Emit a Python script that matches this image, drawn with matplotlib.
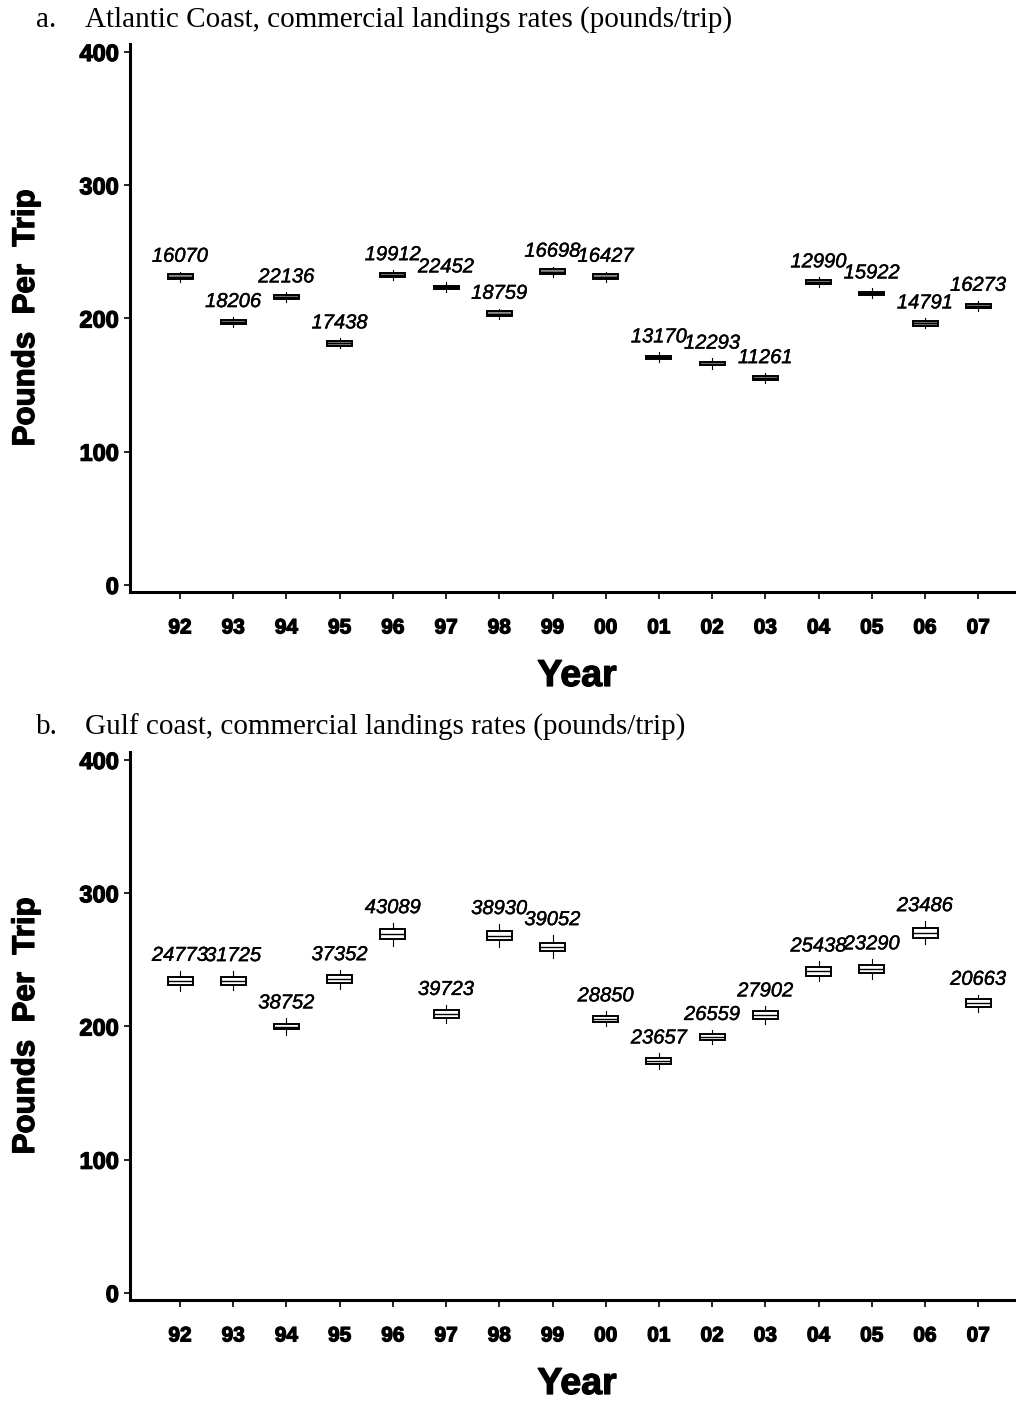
import matplotlib
matplotlib.use('Agg')
import matplotlib.pyplot as plt
import matplotlib.patheffects as pe

years = ['92', '93', '94', '95', '96', '97', '98', '99',
         '00', '01', '02', '03', '04', '05', '06', '07']

## Atlantic coast (panel a) ##
trips_a = ['16070', '18206', '22136', '17438', '19912', '22452', '18759', '16698',
           '16427', '13170', '12293', '11261', '12990', '15922', '14791', '16273']
med_a = [231.4, 197.4, 215.9, 181.4, 232.6, 223.4, 203.6, 235.2,
         231.4, 170.9, 166.2, 155.3, 227.2, 218.9, 196.4, 209.6]
q1_a = [229.5, 195.6, 214.4, 179.6, 231.3, 222.1, 201.7, 233.3,
        229.6, 169.7, 165.0, 154.0, 225.9, 217.6, 194.5, 208.0]
q3_a = [233.3, 199.2, 217.4, 183.2, 233.9, 224.7, 205.5, 237.1,
        233.2, 172.1, 167.4, 156.6, 228.5, 220.2, 198.3, 211.2]
lo_a = [227.6, 193.6, 212.1, 177.6, 228.8, 219.6, 199.8, 231.4,
        227.6, 167.1, 162.4, 151.5, 223.4, 215.1, 192.6, 205.8]
hi_a = [235.2, 201.2, 219.7, 185.2, 236.4, 227.2, 207.4, 239.0,
        235.2, 174.7, 170.0, 159.1, 231.0, 222.7, 200.2, 213.4]

## Gulf coast (panel b) ##
trips_b = ['24773', '31725', '38752', '37352', '43089', '39723', '38930', '39052',
           '28850', '23657', '26559', '27902', '25438', '23290', '23486', '20663']
med_b = [234.1, 234.4, 199.9, 235.4, 269.2, 209.4, 268.2, 259.9,
         205.9, 174.1, 192.1, 208.4, 241.4, 243.0, 270.4, 217.4]
q1_b = [231.0, 231.3, 197.8, 232.4, 265.5, 206.5, 264.6, 256.8,
        203.7, 171.6, 190.0, 205.5, 238.2, 240.1, 266.7, 214.3]
q3_b = [237.2, 237.5, 202.0, 238.4, 273.0, 212.3, 271.8, 263.0,
        208.2, 176.6, 194.2, 211.3, 244.7, 245.9, 274.2, 220.5]
lo_b = [226.3, 227.1, 193.6, 228.4, 260.7, 202.5, 259.4, 251.1,
        200.3, 168.3, 186.7, 201.6, 233.9, 235.5, 261.7, 210.9]
hi_b = [241.9, 241.7, 206.2, 242.4, 277.7, 216.3, 277.0, 268.7,
        211.5, 179.9, 197.5, 215.2, 248.9, 250.5, 279.2, 223.9]

titles = ['Atlantic Coast, commercial landings rates (pounds/trip)',
          'Gulf coast, commercial landings rates (pounds/trip)']

W, H = 1016, 1403
fig = plt.figure(figsize=(W/100, H/100), dpi=100)

narrow = ['Liberation Sans Narrow', 'Liberation Sans', 'DejaVu Sans']
sans = ['Liberation Sans', 'DejaVu Sans']
serif = ['Liberation Serif', 'DejaVu Serif']
heavy = [pe.withStroke(linewidth=0.9, foreground='black')]

def panel(top_px, bot_px, med, q1, q3, lo, hi, trips, face, letter, title, title_y):
    ax = fig.add_axes([130/W, 1-bot_px/H, (W-130)/W, (bot_px-top_px)/H])
    stats = []
    for i in range(len(years)):
        stats.append(dict(med=med[i], q1=q1[i], q3=q3[i], whislo=lo[i], whishi=hi[i], fliers=[]))
    pos = list(range(len(years)))
    ax.bxp(stats, positions=pos, widths=0.47, showcaps=False, showfliers=False,
           patch_artist=True,
           boxprops=dict(facecolor=face, edgecolor='black', linewidth=1.4),
           medianprops=dict(color='black', linewidth=1.0),
           whiskerprops=dict(color='black', linewidth=0.8))
    for i in range(len(years)):
        ax.text(pos[i], hi[i] + 11.5, trips[i], ha='center', va='center',
                fontsize=14.5, style='italic', family=sans,
                path_effects=[pe.withStroke(linewidth=0.3, foreground='black')])
    ax.set_xlim(-0.94, 15.71)
    ax.set_ylim(-5.3, 406)
    ax.set_yticks([0, 100, 200, 300, 400])
    ax.set_xticks(pos)
    ax.set_xticklabels(years)
    for s in ['top', 'right']:
        ax.spines[s].set_visible(False)
    for s in ['left', 'bottom']:
        ax.spines[s].set_linewidth(2.2)
    ax.tick_params(axis='x', length=5, width=1.2, pad=14)
    ax.tick_params(axis='y', length=4, width=1.2, pad=4)
    for lab in ax.get_xticklabels():
        lab.set_fontfamily(narrow); lab.set_fontweight('bold'); lab.set_fontsize(15)
        lab.set_path_effects(heavy)
    for lab in ax.get_yticklabels():
        lab.set_fontfamily(sans); lab.set_fontweight('bold'); lab.set_fontsize(17)
        lab.set_path_effects(heavy)
    mid = 1 - (top_px + bot_px)/2/H
    fig.text(26/W, mid, 'Pounds  Per  Trip', rotation=90, ha='center', va='center',
             fontsize=22.5, fontweight='bold', family=sans, path_effects=heavy)
    fig.text(577/W, 1-(bot_px+84)/H, 'Year', ha='center', va='center',
             fontsize=27, fontweight='bold', family=narrow, path_effects=heavy)
    fig.text(36/W, 1-title_y/H, letter, ha='left', va='center', fontsize=21, family=serif)
    fig.text(85/W, 1-title_y/H, title, ha='left', va='center', fontsize=21, family=serif)
    return ax

panel(44, 592, med_a, q1_a, q3_a, lo_a, hi_a, trips_a, '#8c8c8c', 'a.', titles[0], 20)
panel(752, 1300, med_b, q1_b, q3_b, lo_b, hi_b, trips_b, 'white', 'b.', titles[1], 727)

fig.savefig('out.png', dpi=100)
